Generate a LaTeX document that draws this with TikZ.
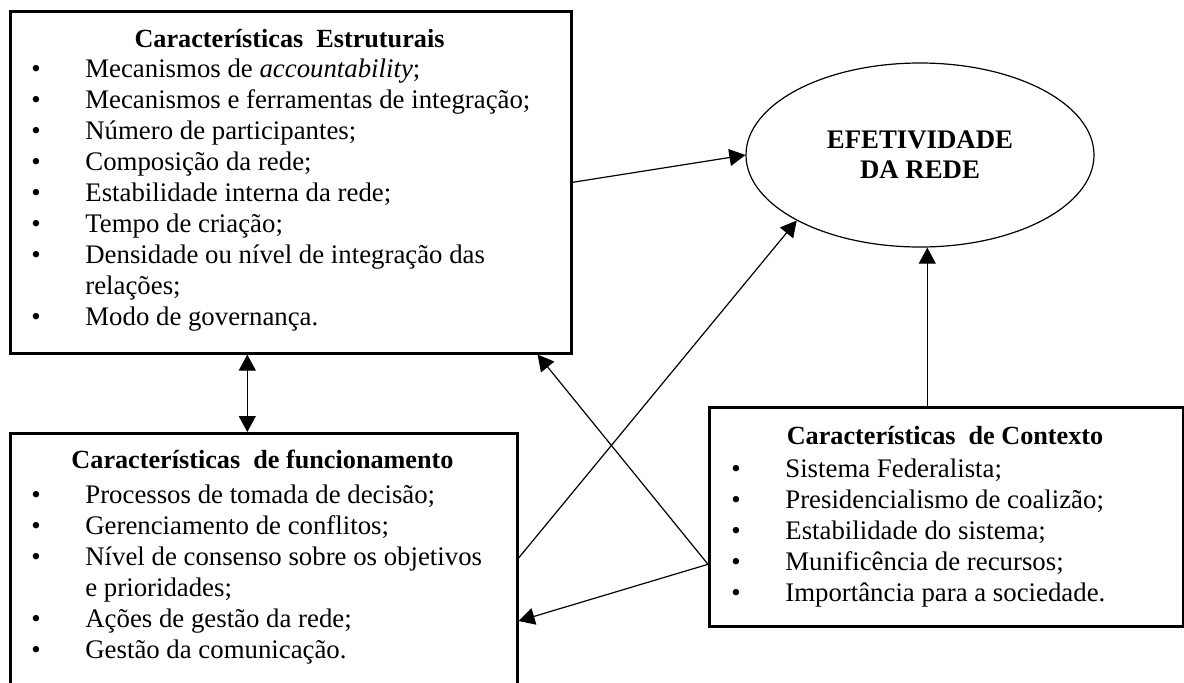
\documentclass[tikz,border=0pt]{standalone}
\usepackage{fontspec}
\setmainfont{Liberation Serif}
\usetikzlibrary{arrows.meta, shapes.geometric}

\begin{document}
\begin{tikzpicture}[x=0.5pt, y=-0.5pt,
        box/.style={rectangle, draw, line width=1.3pt, inner sep=0pt, anchor=north west},
        head/.style={font=\fontsize{13.1}{15.5}\selectfont\bfseries, inner sep=0pt, anchor=base},
        lst/.style={font=\fontsize{13.4}{15.5}\selectfont, inner sep=0pt, anchor=base west},
        goal/.style={ellipse, draw, line width=0.6pt, minimum width=174pt,
                     minimum height=92pt, inner sep=0pt, align=center,
                     font=\fontsize{13.4}{15}\selectfont\bfseries},
        arr/.style={-{Triangle[length=8pt,width=8.5pt]}, line width=0.6pt}]
      \useasboundingbox (0,0) rectangle (1184,682);
      \clip (0,0) rectangle (1184,682);
      % boxes
      \node[box, minimum width=280.5pt, minimum height=171pt] (estr) at (9,10) {};
      \node[box, minimum width=253.5pt, minimum height=140pt] (func) at (9,432) {};
      \node[box, minimum width=237pt, minimum height=109.5pt] (ctx) at (708,406) {};
      \node[goal] (efet) at (920,155) {EFETIVIDADE\\DA REDE};
      % estruturais
      \node[head] (estrh) at (289.5,47) {Características\ \ Estruturais};
      \node[lst] (estrl) at (31,77) {\begin{tabular}[t]{@{}p{27pt}@{}l@{}}
          \textbullet & Mecanismos de \textit{accountability};\\
          \textbullet & Mecanismos e ferramentas de integração;\\
          \textbullet & Número de participantes;\\
          \textbullet & Composição da rede;\\
          \textbullet & Estabilidade interna da rede;\\
          \textbullet & Tempo de criação;\\
          \textbullet & Densidade ou nível de integração das\\
                      & relações;\\
          \textbullet & Modo de governança.
        \end{tabular}};
      % funcionamento
      \node[head] (funch) at (262.5,468) {Características\ \ de funcionamento};
      \node[lst] (funcl) at (31,503) {\begin{tabular}[t]{@{}p{27pt}@{}l@{}}
          \textbullet & Processos de tomada de decisão;\\
          \textbullet & Gerenciamento de conflitos;\\
          \textbullet & Nível de consenso sobre os objetivos\\
                      & e prioridades;\\
          \textbullet & Ações de gestão da rede;\\
          \textbullet & Gestão da comunicação.
        \end{tabular}};
      % contexto
      \node[head] (ctxh) at (945,444) {Características\ \ de Contexto};
      \node[lst] (ctxl) at (731,477) {\begin{tabular}[t]{@{}p{27pt}@{}l@{}}
          \textbullet & Sistema Federalista;\\
          \textbullet & Presidencialismo de coalizão;\\
          \textbullet & Estabilidade do sistema;\\
          \textbullet & Munificência de recursos;\\
          \textbullet & Importância para a sociedade.
        \end{tabular}};
      % connectors
      \coordinate (ctxw) at ([yshift=-23.75pt]ctx.west);
      \coordinate (ctxn) at ([xshift=-9.5pt]ctx.north);
      \coordinate (dbl) at ([xshift=-21.75pt]estr.south);
      \draw[arr] (estr.east) -- (efet.west);
      \draw[arr, {Triangle[length=8pt,width=8.5pt]}-{Triangle[length=8pt,width=8.5pt]}]
        (dbl) -- (dbl |- func.north);
      \draw[arr] ([yshift=-63pt]func.north east) -- (efet.208);
      \draw[arr] (ctxw) -- ([xshift=-17.5pt]estr.south east);
      \draw[arr] (ctxw) -- ([yshift=-94.5pt]func.north east);
      \draw[arr] (ctxn) -- (ctxn |- efet.south);
    \end{tikzpicture}
\end{document}
